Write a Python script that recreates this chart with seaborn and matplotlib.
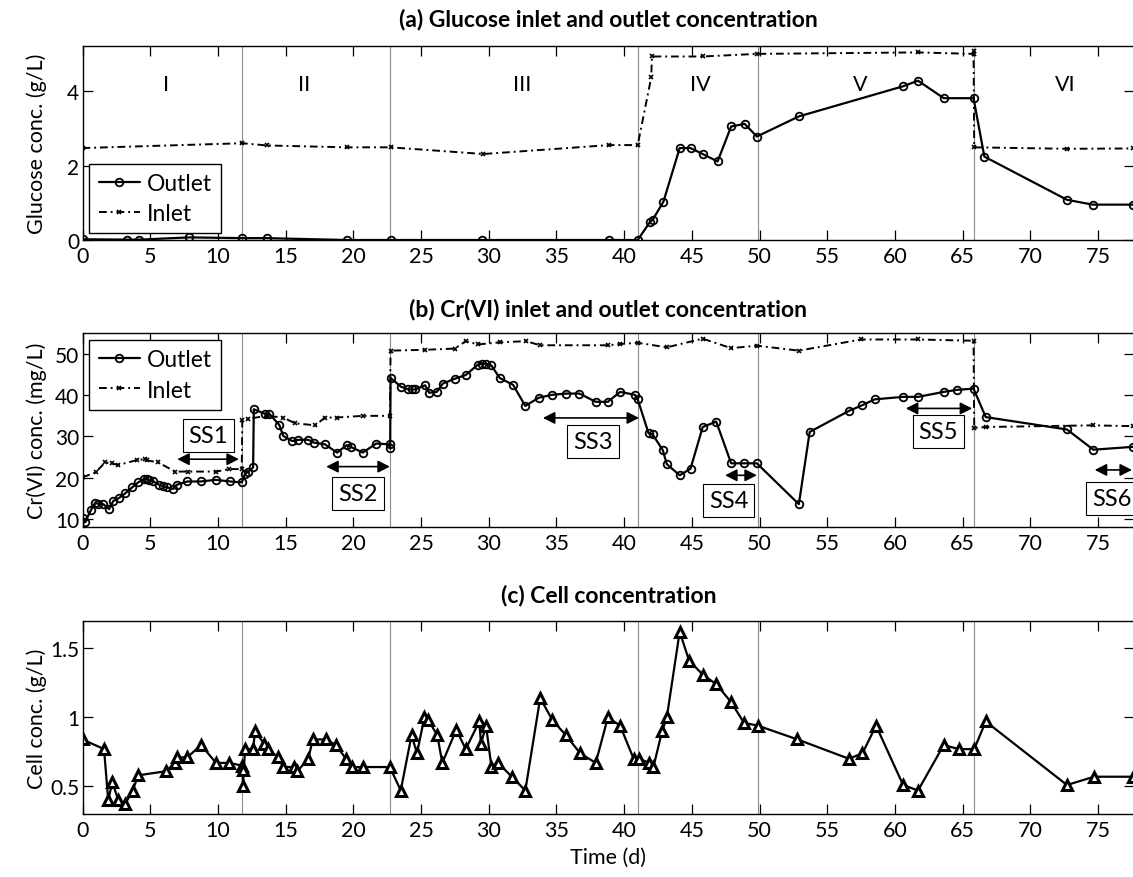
import numpy as np
import pandas as pd
import matplotlib
matplotlib.use("Agg")
import matplotlib.pyplot as plt
import seaborn as sns

# ---------------- data ----------------
glu_out_t = [0, 3.3, 4.2, 7.9, 11.8, 13.6, 19.5, 22.75, 29.5, 38.9, 41.0, 41.9, 42.1, 42.9,
             44.1, 44.9, 45.8, 46.9, 47.9, 48.9, 49.8, 52.9, 60.6, 61.7, 63.6, 65.8, 66.6,
             72.7, 74.6, 77.6]
glu_out_v = [0.02, 0.01, 0.01, 0.07, 0.05, 0.05, 0.0, 0.0, 0.0, 0.0, 0.0, 0.48, 0.54, 1.03,
             2.47, 2.47, 2.31, 2.11, 3.05, 3.12, 2.78, 3.32, 4.13, 4.28, 3.81, 3.81, 2.24,
             1.08, 0.95, 0.95]

glu_in_t = [0, 11.8, 13.6, 19.5, 22.75, 29.6, 38.9, 41.0, 42.0, 42.05, 45.8, 49.8, 61.7,
            65.8, 65.8, 65.85, 72.7, 77.6]
glu_in_v = [2.47, 2.6, 2.54, 2.49, 2.49, 2.31, 2.55, 2.55, 4.37, 4.93, 4.93, 5.0, 5.04,
            5.0, 5.08, 2.49, 2.45, 2.46]

cr_out_t = [0, 0.18, 0.63, 0.92, 1.17, 1.54, 1.96, 2.28, 2.7, 3.14, 3.68, 4.12, 4.54, 4.74,
            4.93, 5.23, 5.67, 5.97, 6.22, 6.7, 6.96, 7.74, 8.73, 9.84, 10.9, 11.76, 12.0,
            12.25, 12.6, 12.65, 13.48, 13.8, 14.53, 14.83, 15.5, 15.94, 16.68, 17.1, 17.9,
            18.8, 19.5, 19.8, 20.7, 21.7, 22.7, 22.72, 22.75, 23.5, 24.07, 24.3, 24.56,
            25.3, 25.6, 26.16, 26.6, 27.5, 28.3, 29.2, 29.5, 29.8, 30.2, 30.8, 31.8, 32.7,
            33.7, 34.7, 35.7, 36.7, 37.9, 38.8, 39.7, 40.8, 41.0, 41.8, 42.1, 42.85, 43.15,
            44.1, 44.9, 45.8, 46.8, 47.9, 48.85, 49.8, 52.9, 53.7, 56.6, 57.6, 58.5, 60.6,
            61.7, 63.6, 64.6, 65.8, 66.7, 72.7, 74.65, 77.6]
cr_out_v = [10.2, 9.2, 12.2, 13.9, 13.7, 13.6, 12.4, 14.4, 15.1, 16.2, 17.7, 18.9, 19.7, 19.8,
            19.4, 19.1, 18.3, 17.9, 17.7, 17.3, 18.3, 19.1, 19.1, 19.5, 19.1, 18.9, 20.9,
            21.5, 22.5, 36.6, 35.5, 35.5, 32.8, 30.1, 28.9, 29.2, 29.2, 28.5, 28.1,
            26.1, 27.9, 27.5, 26.1, 28.3, 28.1, 27.1, 44.2, 42.1, 41.4, 41.4, 41.4,
            42.4, 40.6, 40.8, 42.8, 44.0, 44.9, 47.4, 47.6, 47.6, 47.2, 44.2, 42.5, 37.4,
            39.4, 40.1, 40.4, 40.4, 38.4, 38.4, 40.8, 40.1, 39.0, 30.8, 30.5, 26.7, 23.3,
            20.6, 22.2, 32.3, 33.6, 23.5, 23.5, 23.5, 13.6, 31.1, 36.2, 37.6, 39.0, 39.6,
            39.6, 40.8, 41.3, 41.6, 34.7, 31.7, 26.8, 27.5]

cr_in_t = [0, 0.97, 1.66, 2.15, 2.64, 4.05, 4.6, 4.8, 5.6, 6.83, 7.8, 9.86, 10.84, 11.76,
           11.8, 12.25, 13.6, 14.8, 15.7, 17.2, 17.9, 18.8, 20.7, 22.7, 22.75, 25.3, 27.5,
           28.3, 29.2, 30.8, 32.75, 33.8, 38.8, 39.7, 41.0, 43.15, 45.8, 47.9, 49.8, 52.9,
           57.5, 61.7, 65.8, 65.85, 66.7, 74.65, 77.6]
cr_in_v = [20.1, 21.3, 23.7, 23.5, 23.1, 24.3, 24.5, 24.2, 23.7, 21.5, 21.5, 21.5, 22.1, 22.1,
           33.9, 34.3, 35.0, 34.6, 33.2, 32.7, 34.6, 34.6, 35.0, 35.0, 50.8, 51.0, 51.3,
           53.1, 52.3, 52.8, 53.1, 52.1, 52.1, 52.4, 52.7, 51.6, 53.7, 51.4, 52.0, 50.8,
           53.5, 53.5, 53.2, 32.1, 32.3, 32.7, 32.5]

cell_t = [0, 1.59, 1.9, 2.2, 2.65, 3.14, 3.7, 4.12, 6.17, 6.83, 6.96, 7.74, 8.75, 9.86, 10.84,
          11.8, 11.82, 11.85, 12.0, 12.6, 12.74, 13.4, 13.7, 14.46, 14.83, 15.6, 15.87,
          16.68, 17.0, 17.96, 18.7, 19.46, 19.88, 20.7, 22.7, 23.5, 24.3, 24.7, 25.25,
          25.54, 26.2, 26.57, 27.6, 28.3, 29.3, 29.43, 29.8, 30.2, 30.7, 31.7, 32.7, 33.8,
          34.7, 35.7, 36.75, 37.9, 38.8, 39.7, 40.7, 41.1, 41.86, 42.16, 42.8, 43.15, 44.1,
          44.8, 45.8, 46.8, 47.9, 48.85, 49.87, 52.8, 56.6, 57.6, 58.6, 60.6, 61.7, 63.6,
          64.7, 65.85, 66.7, 72.7, 74.7, 77.6]
cell_v = [0.84, 0.77, 0.40, 0.53, 0.40, 0.37, 0.47, 0.58, 0.61, 0.67, 0.71, 0.71, 0.80, 0.67,
          0.67, 0.65, 0.62, 0.50, 0.77, 0.77, 0.90, 0.81, 0.77, 0.71, 0.64, 0.64, 0.61,
          0.70, 0.84, 0.84, 0.80, 0.70, 0.64, 0.64, 0.64, 0.47, 0.87, 0.74, 1.00,
          0.98, 0.87, 0.67, 0.91, 0.77, 0.97, 0.81, 0.94, 0.64, 0.67, 0.57, 0.47, 1.14,
          0.98, 0.87, 0.74, 0.67, 1.00, 0.94, 0.70, 0.70, 0.67, 0.64, 0.90, 1.00, 1.62,
          1.41, 1.31, 1.24, 1.11, 0.96, 0.94, 0.84, 0.70, 0.74, 0.94, 0.51, 0.47, 0.80,
          0.77, 0.77, 0.97, 0.51, 0.57, 0.57]

phase_bounds = [11.8, 22.7, 41.05, 49.85, 65.8]
phase_labels = ["I", "II", "III", "IV", "V", "VI"]
phase_label_x = [6.2, 16.35, 32.5, 45.6, 57.4, 72.6]

ss_labels = ["SS1", "SS2", "SS3", "SS4", "SS5", "SS6"]
ss_arrow_start = [7.0, 18.0, 34.0, 47.45, 60.8, 74.75]
ss_arrow_end = [11.55, 22.7, 41.1, 49.8, 65.7, 77.5]
ss_arrow_y = [24.5, 22.7, 34.5, 20.6, 36.8, 21.9]
ss_text_x = [9.3, 20.35, 37.7, 47.7, 63.2, 76.0]
ss_text_y = [30.3, 16.2, 28.7, 14.5, 31.2, 15.0]

x_ticks = list(range(0, 80, 5))
titles = ["(a) Glucose inlet and outlet concentration",
          "(b) Cr(VI) inlet and outlet concentration",
          "(c) Cell concentration"]
ylabels = ["Glucose conc. (g/L)", "Cr(VI) conc. (mg/L)", "Cell conc. (g/L)"]

# ---------------- style ----------------
sns.set_theme(style="white")
plt.rcParams["font.family"] = ["Lato", "DejaVu Sans"]
plt.rcParams.update({
    "xtick.direction": "in", "ytick.direction": "in",
    "xtick.top": True, "ytick.right": True,
    "xtick.bottom": True, "ytick.left": True,
    "xtick.major.size": 7, "ytick.major.size": 7,
    "xtick.major.width": 0.9, "ytick.major.width": 0.9,
    "xtick.color": "black", "ytick.color": "black",
    "xtick.labelsize": 15.5, "ytick.labelsize": 15,
    "xtick.major.pad": 4, "ytick.major.pad": 2.5,
    "axes.edgecolor": "black", "axes.linewidth": 1.0,
    "text.color": "black", "axes.labelcolor": "black",
})

W_PX, H_PX = 1133, 878
fig = plt.figure(figsize=(W_PX / 100, H_PX / 100), dpi=100)
left = 82.5 / W_PX
width = (1134 - 82.5) / W_PX
axa = fig.add_axes([left, 1 - 241 / H_PX, width, 194.3 / H_PX])
axb = fig.add_axes([left, 1 - 528.3 / H_PX, width, 194.0 / H_PX])
axc = fig.add_axes([left, 1 - 815 / H_PX, width, 193.3 / H_PX])
axes = [axa, axb, axc]

out_kw = dict(color="black", lw=1.6, marker="o", markersize=5.5, markerfacecolor="none",
              markeredgecolor="black", markeredgewidth=1.3, estimator=None, sort=False)
in_kw = dict(color="black", lw=1.4, linestyle=(0, (4, 2, 1, 2)), marker="x", markersize=3.5,
             markeredgecolor="black", markeredgewidth=1.2, estimator=None, sort=False)

df_go = pd.DataFrame({"t": glu_out_t, "v": glu_out_v})
df_gi = pd.DataFrame({"t": glu_in_t, "v": glu_in_v})
df_co = pd.DataFrame({"t": cr_out_t, "v": cr_out_v})
df_ci = pd.DataFrame({"t": cr_in_t, "v": cr_in_v})
df_cell = pd.DataFrame({"t": cell_t, "v": cell_v})

sns.lineplot(data=df_go, x="t", y="v", ax=axa, label="Outlet", **out_kw)
sns.lineplot(data=df_gi, x="t", y="v", ax=axa, label="Inlet", **in_kw)
sns.lineplot(data=df_co, x="t", y="v", ax=axb, label="Outlet", **out_kw)
sns.lineplot(data=df_ci, x="t", y="v", ax=axb, label="Inlet", **in_kw)
sns.lineplot(data=df_cell, x="t", y="v", ax=axc, color="black", lw=1.6, marker="^",
             markersize=6.5, markerfacecolor="white", markeredgecolor="black",
             markeredgewidth=2.2, estimator=None, sort=False)

for ax in axes:
    ax.set_xlim(0, 77.65)
    ax.set_xticks(x_ticks)
    for b in phase_bounds:
        ax.axvline(b, color="#8c8c8c", lw=0.8, zorder=0.5)
    ax.set_xlabel("")

axa.set_ylim(0, 5.22)
axa.set_yticks([0, 2, 4])
axb.set_ylim(8, 55)
axb.set_yticks([10, 20, 30, 40, 50])
axc.set_ylim(0.3, 1.7)
axc.set_yticks([0.5, 1.0, 1.5])
axc.set_yticklabels(["0.5", "1", "1.5"])
axc.set_xlabel("Time (d)", fontsize=15.5, labelpad=5)

pads = [15, 13, 14]
for ax, ttl, yl, p in zip(axes, titles, ylabels, pads):
    ax.set_title(ttl, fontsize=16.5, fontweight="bold", pad=p)
    ax.set_ylabel(yl, fontsize=15.5)
    ax.yaxis.set_label_coords(-0.034, 0.5)

for lab, xx in zip(phase_labels, phase_label_x):
    axa.text(xx, 4.19, lab, ha="center", va="center", fontsize=15.5)

leg_kw = dict(fontsize=16.5, frameon=True, fancybox=False, framealpha=1, edgecolor="black",
              handlelength=1.8, handletextpad=0.3, borderpad=0.4, labelspacing=0.4,
              borderaxespad=0.3)
la = axa.legend(loc="lower left", **leg_kw)
lb = axb.legend(loc="upper left", **leg_kw)
for lg in (la, lb):
    lg.get_frame().set_linewidth(1.0)

for lab, x0, x1, ya, tx, ty in zip(ss_labels, ss_arrow_start, ss_arrow_end, ss_arrow_y,
                                    ss_text_x, ss_text_y):
    axb.annotate("", xy=(x1, ya), xytext=(x0, ya),
                 arrowprops=dict(arrowstyle="<|-|>,head_length=0.55,head_width=0.28",
                                 color="black", lw=1.2, shrinkA=0, shrinkB=0,
                                 mutation_scale=13))
    axb.text(tx, ty, lab, ha="center", va="center", fontsize=17,
             bbox=dict(boxstyle="square,pad=0.25", fc="white", ec="black", lw=0.8))

fig.savefig("out.png", dpi=100)
